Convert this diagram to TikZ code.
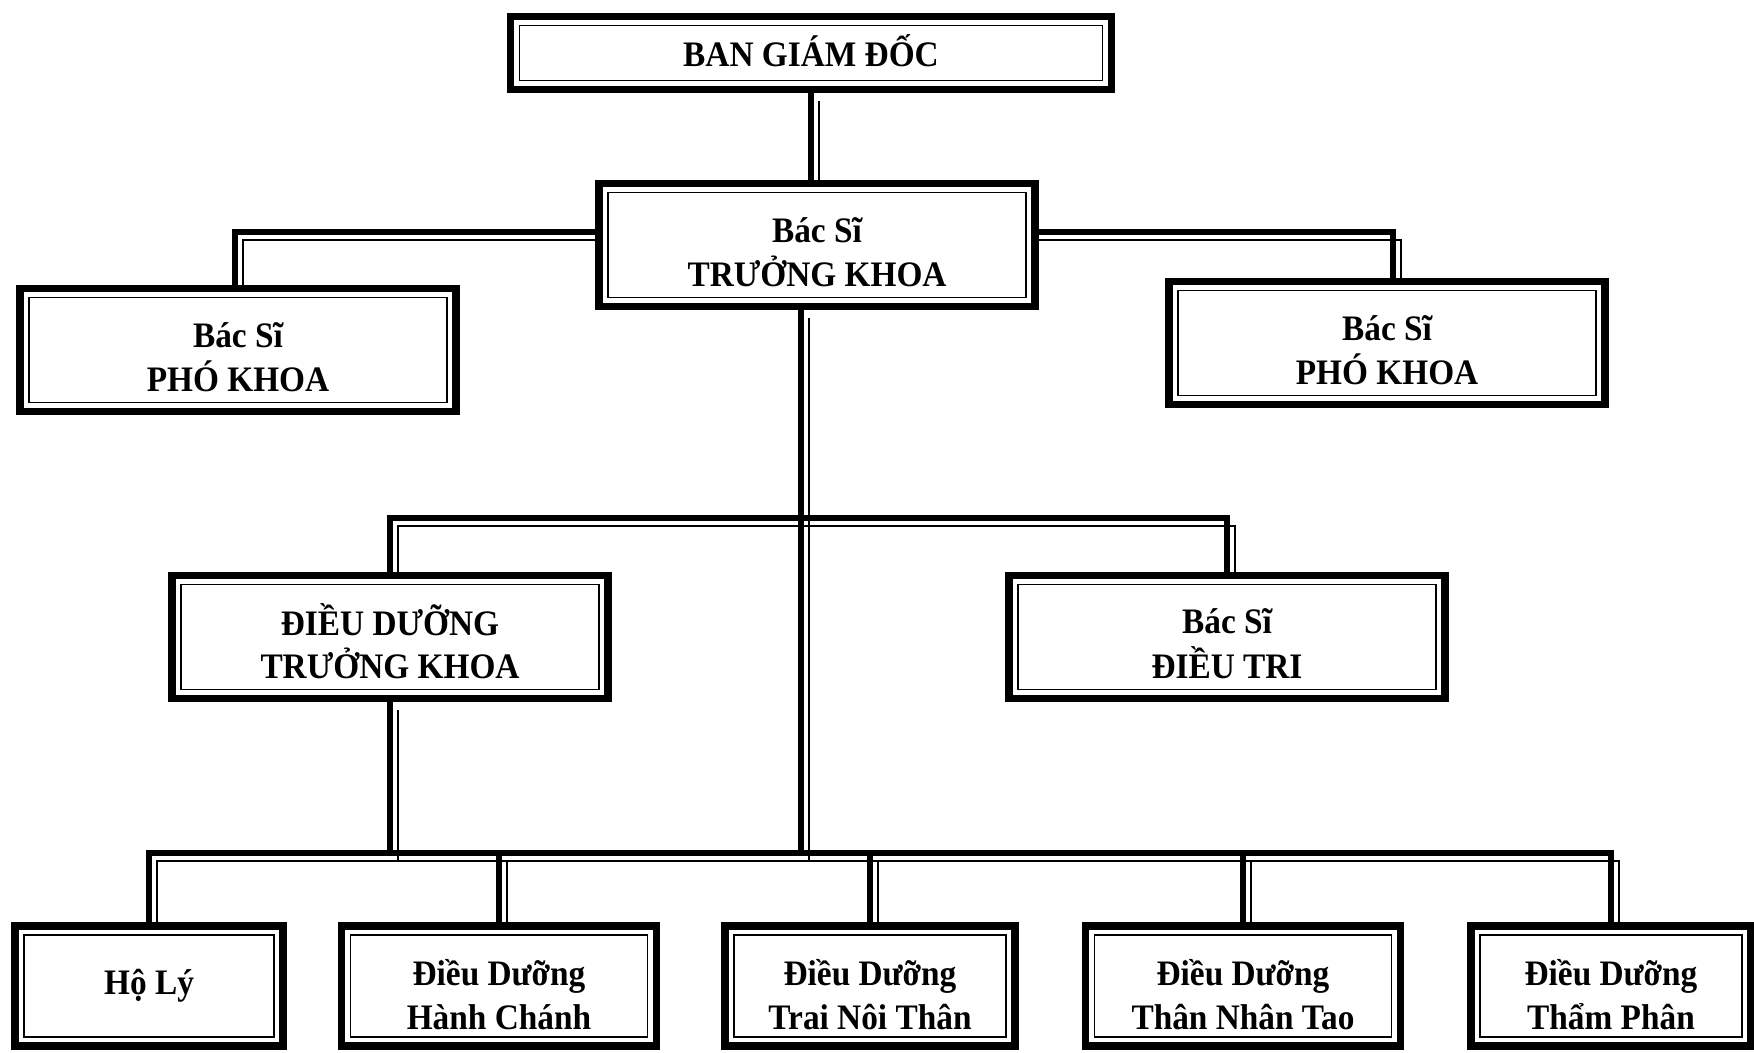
\documentclass[tikz,border=0pt]{standalone}
\usepackage{fontspec}
\setmainfont{Liberation Serif}[FakeStretch=0.93]
\usetikzlibrary{backgrounds}
\newcommand{\boxtext}[2][1.05mm]{\raisebox{-#1}[\height][\depth]{\begin{tabular}{@{}c@{}}#2\end{tabular}}}

\begin{document}
\begin{tikzpicture}[x=0.1mm, y=-0.1mm]
  \tikzset{box/.style = {rectangle, draw, line width=2.1pt, fill=white, align=center, inner sep=0pt,
      font=\fontsize{10.2}{12.4}\selectfont\bfseries,
      path picture={\draw[line width=0.55pt] ([shift={(0.9mm,0.9mm)}]path picture bounding box.south west)
        rectangle ([shift={(-0.9mm,-0.9mm)}]path picture bounding box.north east);}}}
  \tikzset{midbox/.style = {box, minimum width=4.36cm, minimum height=1.23cm}}
  \tikzset{lowbox/.style = {box, minimum height=1.2cm}}
  \tikzset{link/.style = {line width=1.7pt, postaction={draw, line width=0.6pt, transform canvas={xshift=2.3pt, yshift=-2.3pt}}}}

  \useasboundingbox (0,0) rectangle (1754,1052);

  \node[box, minimum width=6.01cm, minimum height=0.73cm] (bgd) at (811,53) {\boxtext[0.45mm]{BAN GIÁM ĐỐC}};
  \node[midbox] (bstk) at (817,245) {\boxtext{Bác Sĩ\\TRƯỞNG KHOA}};
  \node[midbox] (bspk1) at (238,350) {\boxtext{Bác Sĩ\\PHÓ KHOA}};
  \node[midbox] (bspk2) at (1387,343) {\boxtext{Bác Sĩ\\PHÓ KHOA}};
  \node[midbox] (ddtk) at (390,637) {\boxtext{ĐIỀU DƯỠNG\\TRƯỞNG KHOA}};
  \node[midbox] (bsdt) at (1227,637) {\boxtext{Bác Sĩ\\ĐIỀU TRI}};

  \node[lowbox, minimum width=2.68cm] (holy) at (149,986) {Hộ Lý};
  \node[lowbox, minimum width=3.15cm] (hc) at (499,986) {\boxtext[1.3mm]{Điều Dưỡng\\Hành Chánh}};
  \node[lowbox, minimum width=2.9cm] (tnt) at (870,986) {\boxtext[1.3mm]{Điều Dưỡng\\Trai Nôi Thân}};
  \node[lowbox, minimum width=3.15cm] (tnn) at (1243,986) {\boxtext[1.3mm]{Điều Dưỡng\\Thân Nhân Tao}};
  \node[lowbox, minimum width=2.8cm] (tp) at (1611,986) {\boxtext[1.3mm]{Điều Dưỡng\\Thẩm Phân}};

  \coordinate (tbar) at (0,232);
  \coordinate (mbar) at (0,518);
  \coordinate (bbar) at (0,853);

  \begin{scope}[on background layer]
    \draw[link] (bgd.south) -- (bgd.south |- bstk.north);
    \draw[link] ([xshift=-0.3mm]bspk1.north) -- ([xshift=-0.3mm]bspk1.north |- tbar)
      -- ([xshift=0.6mm]bspk2.north |- tbar) -- ([xshift=0.6mm]bspk2.north);
    \draw[link] ([xshift=-1.6mm]bstk.south) -- ([xshift=-1.6mm]bstk.south |- bbar);
    \draw[link] (ddtk.north) -- (ddtk.north |- mbar) -- (bsdt.north |- mbar) -- (bsdt.north);
    \draw[link] (ddtk.south) -- (ddtk.south |- bbar);
    \draw[link] (holy.north) -- (holy.north |- bbar) -- (tp.north |- bbar) -- (tp.north);
    \foreach \n in {hc, tnt, tnn}
      \draw[link] (\n.north |- bbar) -- (\n.north);
  \end{scope}
\end{tikzpicture}
\end{document}
